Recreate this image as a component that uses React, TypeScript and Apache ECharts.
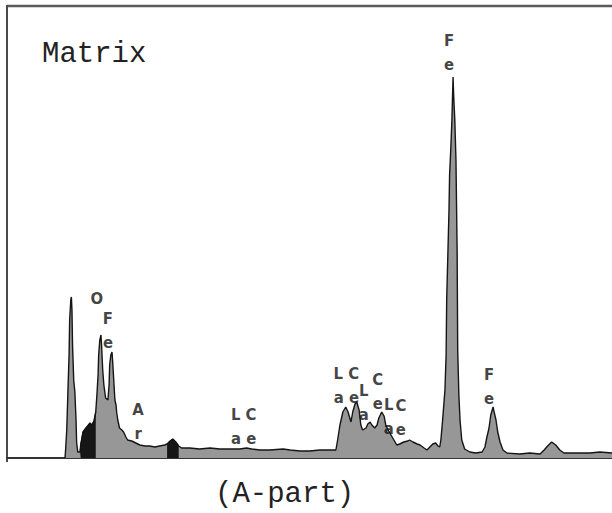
import React, { useEffect, useRef } from "react";
import * as echarts from "echarts";

// EDS spectrum of the matrix (energy in keV, counts in arbitrary units)
const energy = [
  -0.1, -0.09, -0.07, -0.05, -0.03, -0.02, 0.0, 0.01, 0.02, 0.03, 0.05, 0.07, 0.09, 0.1, 0.12,
  0.16, 0.17, 0.21, 0.26, 0.29, 0.33, 0.36, 0.4, 0.43, 0.45, 0.47, 0.48, 0.5, 0.52, 0.53, 0.55,
  0.57, 0.6, 0.64, 0.66, 0.67, 0.69, 0.71, 0.72, 0.74, 0.76, 0.78, 0.79, 0.81, 0.84, 0.88, 0.91,
  0.95, 0.98, 1.05, 1.12, 1.19, 1.28, 1.36, 1.45, 1.53, 1.62, 1.66, 1.71, 1.76, 1.81, 1.86, 1.91,
  2.05, 2.22, 2.4, 2.57, 2.74, 2.91, 3.03, 3.12, 3.26, 3.43, 3.66, 3.78, 3.95, 4.12, 4.29, 4.47,
  4.57, 4.6, 4.64, 4.69, 4.74, 4.78, 4.83, 4.86, 4.9, 4.93, 4.97, 5.0, 5.03, 5.09, 5.12, 5.16,
  5.19, 5.24, 5.28, 5.31, 5.36, 5.4, 5.43, 5.47, 5.5, 5.55, 5.62, 5.67, 5.74, 5.81, 5.84, 5.9,
  5.97, 6.02, 6.09, 6.14, 6.19, 6.24, 6.29, 6.33, 6.36, 6.38, 6.41, 6.45, 6.47, 6.48, 6.5, 6.52,
  6.53, 6.55, 6.57, 6.59, 6.6, 6.62, 6.64, 6.66, 6.67, 6.69, 6.71, 6.74, 6.79, 6.88, 6.98, 7.09,
  7.14, 7.17, 7.21, 7.24, 7.28, 7.29, 7.33, 7.36, 7.4, 7.45, 7.52, 7.74, 7.91, 8.09, 8.16, 8.22,
  8.29, 8.36, 8.43, 8.5, 8.69, 8.95, 9.12, 9.33,
];

const counts = [
  0, 8, 28, 66, 103, 138, 158, 161, 148, 113, 78, 66, 38, 16, 6,
  6, 13, 26, 30, 32, 35, 33, 37, 46, 63, 83, 103, 118, 123, 113, 88,
  73, 60, 58, 73, 93, 103, 106, 98, 78, 58, 53, 46, 38, 30, 28, 26,
  21, 18, 17, 15, 13, 12, 12, 11, 12, 13, 14, 17, 19, 16, 12, 10,
  10, 9, 10, 9, 9, 9, 10, 9, 8, 8, 9, 8, 7, 7, 8, 8,
  8, 18, 33, 46, 51, 46, 36, 46, 54, 56, 48, 33, 28, 30, 34, 36,
  33, 30, 33, 40, 46, 42, 33, 28, 25, 20, 13, 14, 16, 17, 18, 16,
  14, 13, 10, 8, 11, 14, 15, 12, 11, 18, 38, 68, 103, 158, 203, 248,
  283, 308, 338, 381, 363, 338, 298, 208, 108, 63, 38, 18, 9, 6, 5, 6,
  11, 20, 30, 43, 51, 48, 38, 26, 16, 8, 5, 4, 5, 4, 8, 12,
  16, 13, 8, 5, 5, 5, 6, 5,
];

// Energy windows whose area is printed solid black
const solidWindows: [number, number][] = [
  [0.16, 0.43],
  [1.66, 1.86],
];

// Peak identification labels
const labelEnergy = [0.45, 0.64, 1.16, 2.98, 4.75, 5.05, 5.29, 5.48, 5.69, 6.52, 7.21];
const labelCount = [160, 128, 37, 32, 73, 56, 67, 42, 41, 406, 72];
const labelText = ["O", "F\ne", "A\nr", "L C\na e", "L C\na e", "L\na", "C\ne", "L\na", "C\ne", "F\ne", "F\ne"];

const titleText = "Matrix";
const partText = "(A-part)";

export default function App() {
  const ref = useRef<HTMLDivElement>(null);

  useEffect(() => {
    if (!ref.current) return;
    const chart = echarts.init(ref.current, undefined, { renderer: "svg" });

    const spectrum = energy.map((e, i) => [e, counts[i]]);
    const solidSeries = solidWindows.map(([lo, hi]) => ({
      type: "line" as const,
      data: spectrum.filter(([e]) => e >= lo && e <= hi),
      showSymbol: false,
      silent: true,
      lineStyle: { color: "#111", width: 1 },
      areaStyle: { color: "#161616", opacity: 1 },
      z: 3,
    }));

    const mono = "'Liberation Mono', 'DejaVu Sans Mono', monospace";

    chart.setOption({
      animation: false,
      backgroundColor: "#ffffff",
      title: [
        {
          text: titleText,
          left: 37,
          top: 35,
          textStyle: { fontFamily: mono, fontSize: 29, fontWeight: "normal", color: "#222" },
        },
        {
          text: partText,
          left: 210,
          top: 475,
          textStyle: { fontFamily: mono, fontSize: 29, fontWeight: "normal", color: "#222" },
        },
      ],
      grid: { left: 7, right: 0, top: 6, bottom: 55, show: false },
      xAxis: {
        type: "value",
        min: -1.1,
        max: 9.33,
        axisLine: { show: true, onZero: true, lineStyle: { color: "#333", width: 2 } },
        axisTick: { show: false },
        axisLabel: { show: false },
        splitLine: { show: false },
      },
      yAxis: {
        type: "value",
        min: 0,
        max: 452,
        show: false,
        splitLine: { show: false },
      },
      graphic: [
        {
          type: "line",
          shape: { x1: 7, y1: 6, x2: 612, y2: 6 },
          style: { stroke: "#5a5a5a", lineWidth: 2.5 },
        },
        {
          type: "line",
          shape: { x1: 7, y1: 5, x2: 7, y2: 462 },
          style: { stroke: "#4a4a4a", lineWidth: 2 },
        },
      ],
      series: [
        {
          type: "line",
          data: spectrum,
          showSymbol: false,
          silent: true,
          lineStyle: { color: "#151515", width: 1.4 },
          areaStyle: { color: "#979797", opacity: 1 },
          z: 2,
        },
        ...solidSeries,
        {
          type: "scatter",
          data: labelEnergy.map((e, i) => [e, labelCount[i]]),
          symbolSize: 0,
          silent: true,
          z: 5,
          label: {
            show: true,
            position: "inside",
            formatter: (p: any) => labelText[p.dataIndex],
            fontFamily: "'Liberation Sans Narrow', 'DejaVu Sans Condensed', 'Liberation Sans', sans-serif",
            fontSize: 16.5,
            fontWeight: "bold",
            lineHeight: 24,
            color: "#111",
          },
        },
      ],
    });

    return () => chart.dispose();
  }, []);

  return (
    <div
      ref={ref}
      style={{ position: "absolute", left: 0, top: 0, width: 612, height: 513, background: "#fff" }}
    />
  );
}
